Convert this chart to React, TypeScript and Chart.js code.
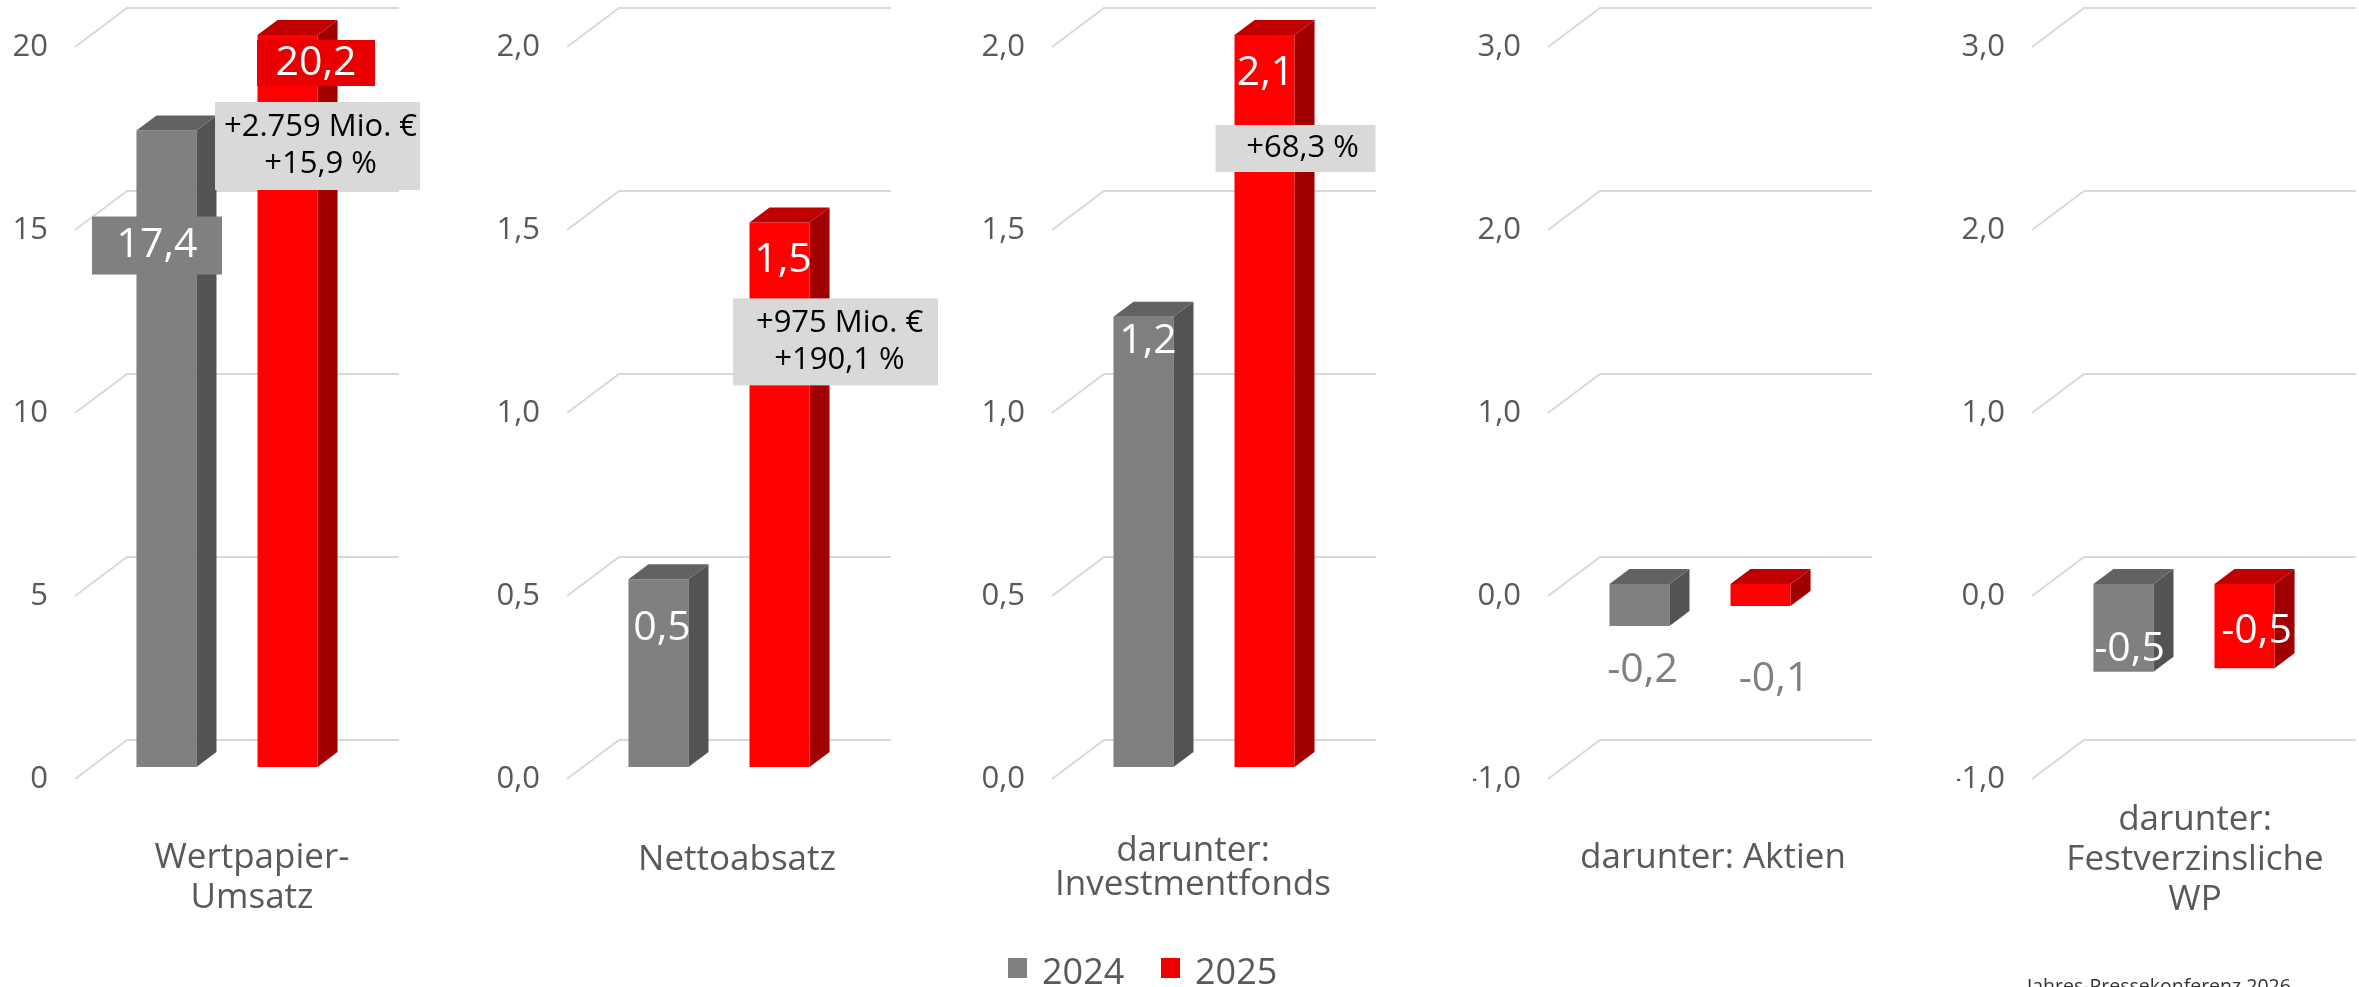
import React, { useEffect, useRef } from 'react';
import { Chart, registerables } from 'chart.js';

Chart.register(...registerables);

// ---------- data ----------
const categories: (string | string[])[] = [
  ['Wertpapier-', 'Umsatz'],
  'Nettoabsatz',
  ['darunter:', 'Investmentfonds'],
  'darunter: Aktien',
  ['darunter:', 'Festverzinsliche', 'WP'],
];
const seriesNames = ['2024', '2025'];
const values2024 = [17.39, 0.513, 1.23, -0.23, -0.48];
const values2025 = [20.16, 1.488, 2.09, -0.12, -0.46];
const changeTexts: string[][] = [
  ['+2.759 Mio. €', '+15,9 %'],
  ['+975 Mio. €', '+190,1 %'],
  ['+68,3 %'],
  [],
  [],
];
const axisMin = [0, 0, 0, -1, -1];
const axisMax = [20, 2, 2, 3, 3];
const axisStep = [5, 0.5, 0.5, 1, 1];
const tickDecimals = [0, 1, 1, 1, 1];
const footerText = 'Jahres-Pressekonferenz 2026';

// ---------- styles ----------
const FONT = '"Open Sans", "Noto Sans", sans-serif';
const PANEL_LEFT = [0, 492, 977, 1473, 1957];
const CANVAS_W = 470;
const CANVAS_H = 987;
const frontColors = ['#808080', '#ff0000'];
const sideColors = ['#535353', '#a00000'];
const topColors = ['#626262', '#c00000'];
const BAR_DX = 20;
const BAR_DY = 15;
const WALL_FRONT_X = 16;
const WALL_FRONT_Y = 12;
const WALL_BACK_X = 36;
const WALL_BACK_Y = 27;

const catStyle = [
  { pad: 71, off: 25, lh: 1.14 },
  { pad: 73, off: 18, lh: 1.14 },
  { pad: 67, off: -11, lh: 0.98 },
  { pad: 71, off: 13, lh: 1.14 },
  { pad: 33, off: 11, lh: 1.14 },
];

type LabelStyle = { dx: number; dy: number; color: string; bg?: string; w?: number; h?: number };
const valueLabelStyles: LabelStyle[][] = [
  [
    { dx: -9.5, dy: 115, color: '#ffffff', bg: '#808080', w: 130, h: 58 },
    { dx: 28.5, dy: 28, color: '#ffffff', bg: '#e80000', w: 118, h: 46 },
  ],
  [
    { dx: 3.5, dy: 49, color: '#ffffff' },
    { dx: 3.5, dy: 38, color: '#ffffff' },
  ],
  [
    { dx: 4.5, dy: 25, color: '#ffffff' },
    { dx: 1, dy: 38, color: '#ffffff' },
  ],
  [
    { dx: 3, dy: 44, color: '#7f7f7f' },
    { dx: 13.5, dy: 73, color: '#7f7f7f' },
  ],
  [
    { dx: 6, dy: -23, color: '#ffffff' },
    { dx: 12, dy: -37, color: '#ffffff' },
  ],
];
const changeBoxStyles: ({ dx: number; dy: number; w: number; h: number; tdx: number } | null)[] = [
  { dx: 30, dy: 111, w: 205, h: 88, tdx: 3 },
  { dx: 56, dy: 119.5, w: 205, h: 87, tdx: 4 },
  { dx: 31, dy: 113.5, w: 160, h: 47, tdx: 7 },
  null,
  null,
];

const fmt = (v: number, d: number) => v.toFixed(d).replace('.', ',');

function depthPlugin(i: number) {
  return {
    id: 'depth' + i,
    beforeDatasetsDraw(chart: any) {
      const { ctx, chartArea, scales } = chart;
      const ys = scales.y;
      ctx.save();
      ctx.strokeStyle = '#d9d9d9';
      ctx.lineWidth = 2;
      for (const t of ys.ticks) {
        const py = ys.getPixelForValue(t.value);
        ctx.beginPath();
        ctx.moveTo(chartArea.left - WALL_FRONT_X, py + WALL_FRONT_Y);
        ctx.lineTo(chartArea.left + WALL_BACK_X, py - WALL_BACK_Y);
        ctx.lineTo(chartArea.right + WALL_BACK_X, py - WALL_BACK_Y);
        ctx.stroke();
      }
      ctx.restore();
    },
    afterDatasetsDraw(chart: any) {
      const { ctx, chartArea } = chart;
      const clampY = (v: number) => Math.min(Math.max(v, chartArea.top), chartArea.bottom);
      const poly = (pts: number[][]) => {
        ctx.beginPath();
        ctx.moveTo(pts[0][0], pts[0][1]);
        for (let k = 1; k < pts.length; k++) ctx.lineTo(pts[k][0], pts[k][1]);
        ctx.closePath();
        ctx.fill();
      };
      ctx.save();
      const props: any[] = [];
      chart.data.datasets.forEach((ds: any, di: number) => {
        const el = chart.getDatasetMeta(di).data[0];
        const p = el.getProps(['x', 'y', 'base', 'width'], true);
        props.push(p);
        const yT = clampY(Math.min(p.y, p.base));
        const yB = clampY(Math.max(p.y, p.base));
        const x0 = p.x - p.width / 2;
        const x1 = p.x + p.width / 2;
        ctx.fillStyle = sideColors[di];
        poly([[x1, yT], [x1 + BAR_DX, yT - BAR_DY], [x1 + BAR_DX, yB - BAR_DY], [x1, yB]]);
        ctx.fillStyle = topColors[di];
        poly([[x0, yT], [x0 + BAR_DX, yT - BAR_DY], [x1 + BAR_DX, yT - BAR_DY], [x1, yT]]);
      });
      // value labels
      ctx.textAlign = 'center';
      ctx.textBaseline = 'middle';
      ctx.font = `41px ${FONT}`;
      chart.data.datasets.forEach((ds: any, di: number) => {
        const p = props[di];
        const st = valueLabelStyles[i][di];
        const cx = p.x + st.dx;
        const cy = clampY(p.y) + st.dy;
        if (st.bg) {
          ctx.fillStyle = st.bg;
          ctx.fillRect(cx - st.w! / 2, cy - st.h! / 2, st.w!, st.h!);
        }
        ctx.fillStyle = st.color;
        ctx.fillText(fmt(ds.data[0], 1), cx, cy);
      });
      // change annotation
      const cb = changeBoxStyles[i];
      const lines = changeTexts[i];
      if (cb && lines.length) {
        const p = props[1];
        const cx = p.x + cb.dx;
        const cy = clampY(p.y) + cb.dy;
        ctx.fillStyle = '#d9d9d9';
        ctx.fillRect(cx - cb.w / 2, cy - cb.h / 2, cb.w, cb.h);
        ctx.fillStyle = '#000000';
        ctx.font = `31px ${FONT}`;
        const lh = 37;
        lines.forEach((ln, k) => {
          ctx.fillText(ln, cx + cb.tdx, cy + (k - (lines.length - 1) / 2) * lh);
        });
      }
      ctx.restore();
    },
  };
}

function buildConfig(i: number): any {
  const cs = catStyle[i];
  return {
    type: 'bar',
    data: {
      labels: [categories[i]],
      datasets: seriesNames.map((name, di) => ({
        label: name,
        data: [di === 0 ? values2024[i] : values2025[i]],
        backgroundColor: frontColors[di],
        borderWidth: 0,
        categoryPercentage: 0.89,
        barPercentage: 0.496,
      })),
    },
    options: {
      responsive: false,
      animation: false,
      devicePixelRatio: 1,
      events: [],
      layout: { padding: { top: 35, right: CANVAS_W - 91 - 272, left: 0, bottom: 0 } },
      plugins: { legend: { display: false }, tooltip: { enabled: false } },
      scales: {
        x: {
          grid: { display: false, drawTicks: false },
          border: { display: false },
          ticks: {
            font: { size: 35, family: FONT, lineHeight: cs.lh },
            color: '#595959',
            padding: cs.pad,
            labelOffset: cs.off,
            maxRotation: 0,
            autoSkip: false,
          },
          afterFit: (s: any) => {
            s.height = 220;
            s.paddingLeft = 0;
            s.paddingRight = 0;
          },
        },
        y: {
          min: axisMin[i],
          max: axisMax[i],
          grid: { display: false, drawTicks: false },
          border: { display: false },
          ticks: {
            stepSize: axisStep[i],
            font: { size: 31, family: FONT },
            color: '#595959',
            padding: 43,
            labelOffset: 12,
            callback: (v: any) => fmt(Number(v), tickDecimals[i]),
          },
          afterFit: (s: any) => {
            s.width = 91;
            s.paddingTop = 0;
            s.paddingBottom = 0;
          },
        },
      },
    },
    plugins: [depthPlugin(i)],
  };
}

function Panel({ index }: { index: number }) {
  const ref = useRef<HTMLCanvasElement>(null);
  useEffect(() => {
    const chart = new Chart(ref.current as HTMLCanvasElement, buildConfig(index));
    return () => chart.destroy();
  }, [index]);
  return (
    <canvas
      ref={ref}
      width={CANVAS_W}
      height={CANVAS_H}
      style={{ position: 'absolute', left: PANEL_LEFT[index], top: 0, width: CANVAS_W, height: CANVAS_H }}
    />
  );
}

export default function App() {
  const legendText: React.CSSProperties = {
    position: 'absolute',
    top: 953,
    fontFamily: FONT,
    fontSize: 36,
    lineHeight: '36px',
    color: '#595959',
    whiteSpace: 'nowrap',
  };
  return (
    <div
      style={{
        position: 'fixed',
        left: 0,
        top: 0,
        width: 2359,
        height: 987,
        overflow: 'hidden',
        background: '#ffffff',
      }}
    >
      {categories.map((_, i) => (
        <Panel key={i} index={i} />
      ))}
      <div style={{ position: 'absolute', left: 1008, top: 958, width: 19, height: 20, background: frontColors[0] }} />
      <div style={{ ...legendText, left: 1042 }}>{seriesNames[0]}</div>
      <div style={{ position: 'absolute', left: 1161, top: 958, width: 19, height: 20, background: '#ee0000' }} />
      <div style={{ ...legendText, left: 1195 }}>{seriesNames[1]}</div>
      <div
        style={{
          position: 'absolute',
          left: 2027,
          top: 976,
          fontFamily: FONT,
          fontSize: 19.5,
          lineHeight: '20px',
          color: '#333333',
          whiteSpace: 'nowrap',
        }}
      >
        {footerText}
      </div>
    </div>
  );
}
